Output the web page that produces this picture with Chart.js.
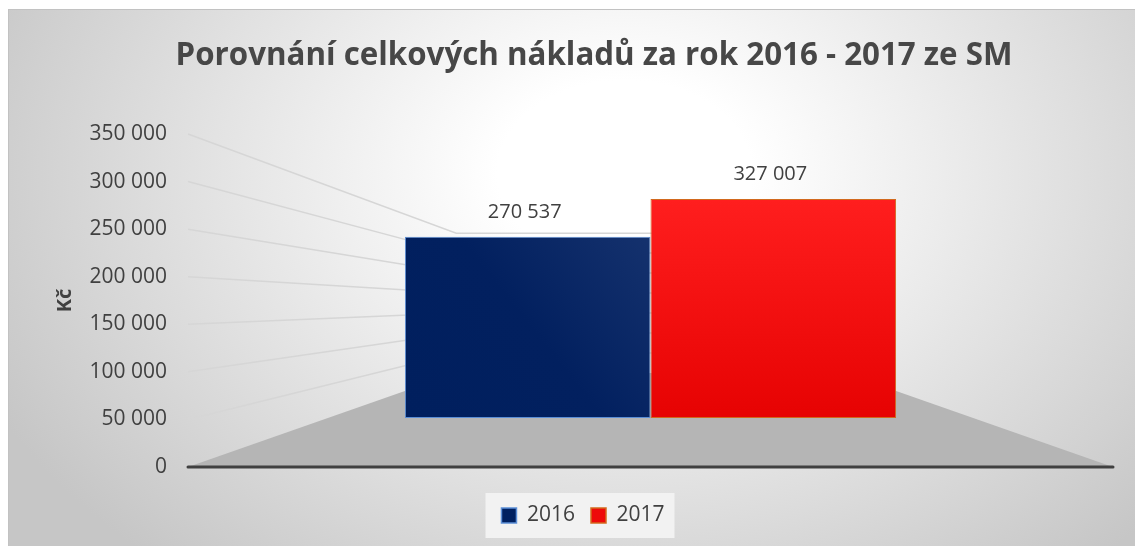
<!DOCTYPE html>
<html>
<head>
<meta charset="utf-8">
<script src="https://cdn.jsdelivr.net/npm/chart.js@4.4.1/dist/chart.umd.min.js"></script>
<style>
  body { margin: 0; background: #fff; overflow: hidden; }
  #wrap {
    position: absolute; left: 8px; top: 9px; width: 1140px; height: 545px;
    border-top: 1px solid #c2c2c2; border-left: 1px solid #c2c2c2;
    background: radial-gradient(ellipse 62% 95% at 54% 30%, #ffffff 0%, #ffffff 18%, #c6c6c6 100%);
  }
  canvas { display: block; }
</style>
</head>
<body>
<div id="wrap"><canvas id="myChart" width="1127" height="537"></canvas></div>
<script>
// data
const categories = ["Náklady"];
const years = ["2016", "2017"];
const costs2016 = [270537];
const costs2017 = [327007];
const yMin = 0;
const yMax = 350000;
const yStep = 50000;
const chartTitle = "Porovnání celkových nákladů za rok 2016 - 2017 ze SM";

const solidColors = ["#002060", "#ee0a0a"];
const edgeColors = ["#5b8ed6", "#d2691e"];

function fmt(v) {
  return String(v).replace(/\B(?=(\d{3})+(?!\d))/g, " ");
}

function blueFill(ctx) {
  const area = ctx.chart.chartArea;
  if (!area) return solidColors[0];
  const g = ctx.chart.ctx.createLinearGradient(400, 410, 640, 220);
  g.addColorStop(0, "#001f5e");
  g.addColorStop(0.5, "#02205f");
  g.addColorStop(1, "#15326e");
  return g;
}

function redFill(ctx) {
  const area = ctx.chart.chartArea;
  if (!area) return solidColors[1];
  const g = ctx.chart.ctx.createLinearGradient(0, 190, 0, 410);
  g.addColorStop(0, "#ff1e1e");
  g.addColorStop(1, "#e60202");
  return g;
}

// title, placed a bit right of the canvas centre like the original
const titleText = {
  id: "titleText",
  afterDraw(chart) {
    const ctx = chart.ctx;
    ctx.save();
    ctx.font = "bold 31.3px 'Open Sans'";
    ctx.fillStyle = "#474747";
    ctx.textAlign = "center";
    ctx.textBaseline = "middle";
    ctx.fillText(chartTitle, 585, 46);
    ctx.restore();
  }
};

// floor, walls and converging grid lines of the 3D look
const perspective = {
  id: "perspective",
  beforeDatasetsDraw(chart) {
    const { ctx, chartArea: a, scales } = chart;
    const y = scales.y;
    const k = 0.42;
    const depth = 94;
    const cx = (a.left + a.right) / 2;
    const bl = cx - (a.right - a.left) * k / 2;
    const br = cx + (a.right - a.left) * k / 2;
    const bb = a.bottom - depth;
    const bh = (a.bottom - a.top) * k;

    ctx.save();
    // floor
    ctx.fillStyle = "#b5b5b5";
    ctx.beginPath();
    ctx.moveTo(a.left, a.bottom);
    ctx.lineTo(a.right, a.bottom);
    ctx.lineTo(br, bb);
    ctx.lineTo(bl, bb);
    ctx.closePath();
    ctx.fill();

    // grid lines
    ctx.strokeStyle = "#d6d6d6";
    ctx.lineWidth = 1.5;
    y.ticks.forEach(t => {
      if (t.value === 0) return;
      const fy = y.getPixelForValue(t.value);
      const by = bb - (t.value - yMin) / (yMax - yMin) * bh;
      ctx.beginPath();
      ctx.moveTo(a.left, fy);
      ctx.lineTo(bl, by);
      ctx.lineTo(br, by);
      ctx.stroke();
    });

    // front base line
    ctx.strokeStyle = "#404040";
    ctx.lineWidth = 3;
    ctx.lineCap = "round";
    ctx.beginPath();
    ctx.moveTo(a.left, a.bottom);
    ctx.lineTo(a.right, a.bottom);
    ctx.stroke();
    ctx.restore();
  }
};

// value labels above the bars
const valueLabels = {
  id: "valueLabels",
  afterDatasetsDraw(chart) {
    const { ctx } = chart;
    ctx.save();
    ctx.font = "20px 'Open Sans'";
    ctx.fillStyle = "#404040";
    ctx.textAlign = "center";
    ctx.textBaseline = "middle";
    chart.data.datasets.forEach((ds, i) => {
      chart.getDatasetMeta(i).data.forEach((bar, j) => {
        ctx.fillText(fmt(ds.data[j]), bar.x - 3, bar.y - 25);
      });
    });
    ctx.restore();
  }
};

// light box behind the legend
const legendBox = {
  id: "legendBox",
  beforeDraw(chart) {
    const boxes = chart.legend.legendHitBoxes;
    if (!boxes || !boxes.length) return;
    let l = Infinity, r = -Infinity, t = Infinity, b = -Infinity;
    boxes.forEach(h => {
      l = Math.min(l, h.left); r = Math.max(r, h.left + h.width);
      t = Math.min(t, h.top); b = Math.max(b, h.top + h.height);
    });
    const ctx = chart.ctx;
    ctx.save();
    ctx.fillStyle = "rgba(244,244,244,0.9)";
    ctx.fillRect(l - 16, t - 12, r - l + 26, b - t + 24);
    ctx.restore();
  }
};

const ctxEl = document.getElementById("myChart").getContext("2d");
// eslint-disable-next-line no-undef
const myChart = new Chart(ctxEl, {
  type: "bar",
  data: {
    labels: categories,
    datasets: [
      {
        label: years[0],
        data: costs2016,
        yAxisID: "yb",
        backgroundColor: blueFill,
        borderColor: edgeColors[0],
        borderWidth: 1,
        borderSkipped: false,
      },
      {
        label: years[1],
        data: costs2017,
        yAxisID: "yb",
        backgroundColor: redFill,
        borderColor: edgeColors[1],
        borderWidth: 1,
        borderSkipped: false,
      },
    ],
  },
  options: {
    responsive: false,
    animation: false,
    layout: { padding: { left: 44, right: 23, top: 124, bottom: 11 } },
    datasets: {
      bar: { categoryPercentage: 0.531, barPercentage: 1 },
    },
    plugins: {
      title: { display: false },
      legend: {
        position: "bottom",
        labels: {
          color: "#404040",
          font: { family: "'Open Sans'", size: 21 },
          boxWidth: 15,
          boxHeight: 15,
          padding: 16,
          generateLabels(chart) {
            const items = Chart.defaults.plugins.legend.labels.generateLabels(chart);
            items.forEach((it, i) => {
              it.fillStyle = solidColors[i];
              it.strokeStyle = edgeColors[i];
              it.lineWidth = 1.5;
            });
            return items;
          },
        },
      },
      tooltip: { enabled: false },
    },
    scales: {
      x: {
        display: true,
        grid: { display: false, drawTicks: false },
        border: { display: false },
        ticks: { display: false },
        afterFit(s) { s.height = 22; },
      },
      y: {
        min: yMin,
        max: yMax,
        grid: { display: false, drawTicks: false },
        border: { display: false },
        ticks: {
          stepSize: yStep,
          padding: 21,
          color: "#404040",
          font: { family: "'Open Sans'", size: 21 },
          callback: v => fmt(v),
        },
        title: {
          display: true,
          text: "Kč",
          color: "#404040",
          font: { family: "'Open Sans'", size: 20, weight: "bold" },
          padding: { top: 0 },
        },
        afterFit(s) { s.width = 135; },
      },
      yb: {
        display: false,
        min: -73000,
        max: 424000,
      },
    },
  },
  plugins: [legendBox, perspective, valueLabels, titleText],
});
</script>
</body>
</html>
